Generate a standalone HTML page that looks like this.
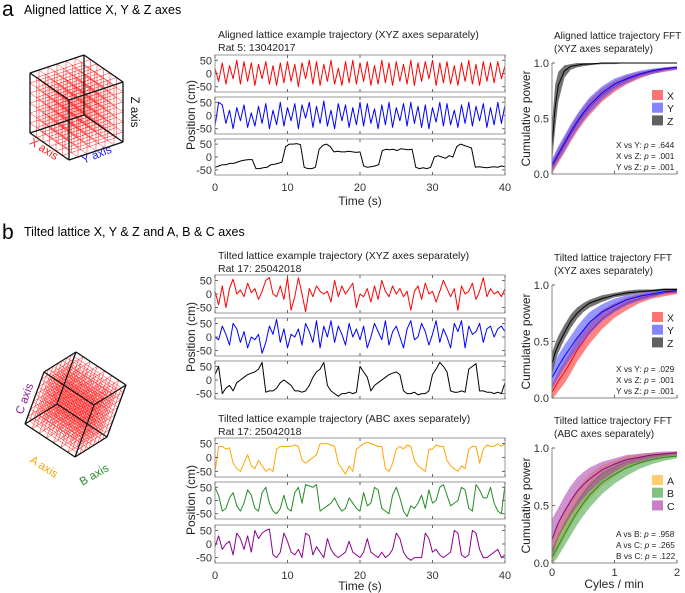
<!DOCTYPE html>
<html><head><meta charset="utf-8"><style>
body{margin:0;background:#fff}
svg{display:block;font-family:"Liberation Sans",Arial,sans-serif}
</style></head><body>
<svg id="fig" width="685" height="593" viewBox="0 0 685 593" xmlns="http://www.w3.org/2000/svg">
<text x="2" y="16" font-size="21">a</text>
<text x="24" y="14" font-size="12.5">Aligned lattice X, Y &amp; Z axes</text>
<text x="2" y="239" font-size="21">b</text>
<text x="24" y="236" font-size="12.5">Tilted lattice X, Y &amp; Z and A, B &amp; C axes</text>
<g id="cubes"></g>
<g id="traj"></g>
<g id="fft"></g>
</svg>
<script>
// ---------- trajectory data (cm, sampled every 0.5 s, 0..40 s) ----------
const timeTicks=[0,10,20,30,40];
const posTicks=[50,0,-50];
const alignedX=[20,-30,40,-40,30,-20,50,-40,45,-30,40,-45,35,-20,45,-40,30,-45,40,-35,45,-30,35,-50,40,-20,50,-40,45,-45,35,-30,50,-40,20,-45,45,-35,50,-40,40,-30,45,-45,30,-40,50,-35,40,-45,45,-30,35,-40,50,-45,40,-30,45,-20,50,-45,40,-35,45,-40,30,-45,40,-30,50,-40,35,-45,45,-30,40,-35,45,-20,30];
const alignedY=[-40,50,40,-30,20,-50,30,-20,40,-45,10,-40,35,-30,45,-50,20,-35,50,-40,30,-20,45,-50,40,-10,50,-45,35,-30,55,-40,20,-50,45,-20,40,-45,30,-35,50,-40,45,-30,25,-50,40,-35,50,-45,30,-20,45,-40,50,-30,35,-45,40,-50,30,-25,50,-40,45,-35,20,-45,40,-30,50,-40,35,-20,45,-45,30,-35,50,-30,40];
const alignedZ=[-40,-35,-30,-30,-25,-25,-20,-15,-12,-10,-10,-45,-45,-42,-40,-30,-28,-25,-20,40,50,50,52,48,-40,-45,-45,-40,30,45,50,40,20,22,20,20,22,20,18,20,-35,-40,-38,-35,-30,25,30,28,30,25,32,30,28,30,-40,-45,-42,-45,-40,0,5,0,-5,5,0,40,50,45,40,35,-40,-38,-40,-42,-40,-38,-40,-35,-38];
const tiltedX=[10,-40,30,-50,20,55,0,15,-10,40,5,20,-20,10,50,60,0,-10,30,-20,60,-60,-10,60,0,-65,20,-10,30,10,0,10,-30,50,-10,30,0,20,40,-50,0,-10,20,-30,30,-20,50,10,-10,30,0,20,-10,10,-60,10,30,-20,40,0,10,-30,10,50,20,-10,20,-60,30,0,10,40,-20,10,60,-10,20,0,10,-10,20];
const tiltedY=[0,-10,40,10,-30,50,30,-20,20,-40,0,-10,10,-60,-20,40,10,65,-20,30,-40,10,0,30,-30,50,20,-20,60,-40,40,0,60,-20,40,10,-30,50,0,30,-10,40,-40,0,50,20,-10,60,-30,20,40,0,-40,30,60,-10,0,50,20,-30,10,60,-20,30,0,-40,50,20,60,-40,40,10,20,50,-20,30,40,0,30,40,20];
const tiltedZ=[20,50,-50,-30,-20,-40,-10,0,10,20,25,30,40,65,-45,-40,-40,-30,-10,0,-10,-20,-40,-40,-45,-40,-20,10,30,40,65,-20,-40,-50,-60,-50,-50,-45,-50,-45,50,30,10,-40,-20,-10,0,10,20,25,30,20,-40,-50,-50,-45,-55,-50,-50,-40,20,40,65,50,30,-40,-45,-45,-40,-45,40,50,60,-40,-40,-45,-45,-50,-45,-50,-10];
const tiltedA=[-50,40,40,30,35,-20,-40,-50,-20,10,-30,-40,-10,-30,-50,-40,-50,30,40,40,40,40,45,40,-10,-20,-10,0,10,50,50,50,45,40,-20,-40,-60,-30,-50,30,40,50,55,50,45,40,40,-40,-50,-20,30,40,30,45,40,-10,-30,-40,-50,30,30,45,40,40,-10,-30,-40,-50,-30,-40,30,40,40,-20,30,45,40,40,50,40,50];
const tiltedB=[50,20,-40,-30,10,30,-20,-40,-10,40,20,-30,-40,30,50,-10,-40,-50,-30,20,-30,-40,30,50,-10,60,55,50,60,-40,-30,-20,-10,10,-20,-40,-30,10,-10,-30,-40,30,-20,-10,50,40,-30,-40,-50,20,50,10,-40,-60,-20,-30,-10,20,-30,40,-10,0,50,60,20,-20,-10,0,50,40,-30,-40,60,40,10,10,50,-10,-40,-50,60];
const tiltedC=[-10,30,-20,0,10,-40,40,20,-20,30,-30,50,20,40,50,55,-40,-50,-30,40,10,-30,-40,-20,-50,40,30,-40,-10,-30,-50,20,-20,-40,-50,-40,-30,10,-30,-40,-50,-30,20,-30,-40,-50,-30,-50,-40,-20,40,20,-30,-50,-60,-50,-50,-50,40,20,-30,-20,-40,-50,-40,-30,50,40,-40,-50,-40,50,40,-20,-50,-50,-40,-30,-20,-50,-40];

// ---------- FFT data (cumulative power vs cycles/min) ----------
const freqs=[0,0.05,0.1,0.2,0.3,0.4,0.5,0.6,0.8,1.0,1.2,1.4,1.6,1.8,2.0];
const powerTicks=[0,0.5,1];
const freqTicks=[0,1,2];
const aZmean=[0.25,0.6,0.8,0.93,0.97,0.98,0.99,0.99,1,1,1,1,1,1,1];
const aZlo=[0.1,0.4,0.65,0.87,0.94,0.96,0.97,0.98,0.99,0.99,1,1,1,1,1];
const aZhi=[0.45,0.8,0.92,0.98,0.99,1,1,1,1,1,1,1,1,1,1];
const aXmean=[0.06,0.11,0.16,0.26,0.36,0.45,0.53,0.6,0.71,0.79,0.85,0.89,0.92,0.94,0.96];
const aXlo=[0,0.05,0.1,0.19,0.29,0.38,0.46,0.53,0.65,0.74,0.81,0.86,0.9,0.92,0.94];
const aXhi=[0.12,0.17,0.23,0.33,0.43,0.52,0.6,0.67,0.77,0.84,0.89,0.92,0.94,0.96,0.97];
const aYmean=[0.08,0.13,0.18,0.28,0.38,0.47,0.55,0.62,0.73,0.81,0.86,0.9,0.93,0.95,0.96];
const aYlo=[0.02,0.07,0.12,0.21,0.31,0.4,0.48,0.55,0.67,0.76,0.82,0.87,0.9,0.93,0.94];
const aYhi=[0.14,0.19,0.25,0.35,0.45,0.54,0.62,0.69,0.79,0.86,0.9,0.93,0.95,0.96,0.97];
const tZmean=[0.3,0.4,0.47,0.58,0.68,0.75,0.8,0.84,0.88,0.91,0.93,0.94,0.95,0.96,0.96];
const tZlo=[0.2,0.32,0.4,0.52,0.62,0.7,0.76,0.8,0.85,0.89,0.91,0.93,0.94,0.95,0.95];
const tZhi=[0.4,0.48,0.55,0.65,0.74,0.8,0.84,0.87,0.91,0.93,0.95,0.96,0.96,0.97,0.97];
const tYmean=[0.18,0.23,0.28,0.37,0.45,0.53,0.6,0.67,0.76,0.82,0.87,0.9,0.92,0.94,0.95];
const tYlo=[0.08,0.13,0.18,0.27,0.35,0.43,0.5,0.57,0.68,0.76,0.82,0.86,0.89,0.92,0.93];
const tYhi=[0.28,0.33,0.38,0.47,0.55,0.63,0.7,0.76,0.83,0.88,0.91,0.93,0.95,0.96,0.96];
const tXmean=[0.05,0.1,0.15,0.23,0.32,0.42,0.5,0.58,0.7,0.78,0.84,0.88,0.91,0.93,0.94];
const tXlo=[0,0.02,0.06,0.13,0.22,0.32,0.4,0.48,0.61,0.71,0.78,0.84,0.88,0.9,0.92];
const tXhi=[0.12,0.18,0.24,0.33,0.42,0.52,0.6,0.67,0.78,0.84,0.89,0.92,0.94,0.95,0.96];
const cMean=[0.2,0.28,0.35,0.45,0.54,0.62,0.68,0.73,0.81,0.86,0.9,0.92,0.94,0.95,0.96];
const cLo=[0.05,0.14,0.22,0.32,0.41,0.49,0.56,0.62,0.72,0.79,0.85,0.88,0.91,0.93,0.94];
const cHi=[0.38,0.43,0.48,0.58,0.67,0.74,0.79,0.83,0.88,0.91,0.94,0.95,0.96,0.97,0.97];
const aMean=[0.1,0.16,0.23,0.34,0.44,0.53,0.6,0.67,0.77,0.83,0.88,0.91,0.93,0.94,0.95];
const aLo=[0,0.05,0.11,0.22,0.32,0.41,0.49,0.56,0.67,0.75,0.82,0.86,0.89,0.91,0.93];
const aHi=[0.22,0.28,0.35,0.46,0.56,0.64,0.71,0.77,0.85,0.89,0.93,0.95,0.96,0.96,0.97];
const bMean=[0.05,0.1,0.15,0.25,0.35,0.44,0.52,0.59,0.7,0.77,0.83,0.87,0.9,0.92,0.93];
const bLo=[0,0.02,0.06,0.15,0.24,0.33,0.41,0.48,0.6,0.69,0.76,0.82,0.86,0.89,0.91];
const bHi=[0.12,0.18,0.24,0.35,0.45,0.54,0.62,0.69,0.79,0.85,0.89,0.92,0.94,0.95,0.95];

const NS='http://www.w3.org/2000/svg';
function mk(tag,attrs,parent){const e=document.createElementNS(NS,tag);for(const k in attrs)e.setAttribute(k,attrs[k]);parent.appendChild(e);return e;}

// ---------- cubes ----------
const cubes=document.getElementById('cubes');
function cube(V,a,b,c,n,name){
  const g=mk('g',{},cubes);
  
  
  const P=(u,v,w)=>[V[0]+u*a[0]+v*b[0]+w*c[0],V[1]+u*a[1]+v*b[1]+w*c[1]];
  let d='';
  for(let i=0;i<=n;i++)for(let j=0;j<=n;j++){
    const s=i/n,t=j/n;
    let p=P(0,s,t),q=P(1,s,t);d+=`M${p[0]} ${p[1]}L${q[0]} ${q[1]}`;
    p=P(s,0,t);q=P(s,1,t);d+=`M${p[0]} ${p[1]}L${q[0]} ${q[1]}`;
    p=P(s,t,0);q=P(s,t,1);d+=`M${p[0]} ${p[1]}L${q[0]} ${q[1]}`;
  }
  mk('path',{d:d,stroke:'#ff2020','stroke-width':0.5,fill:'none'},g);
  const E=[[[0,0,0],[1,0,0]],[[0,0,0],[0,1,0]],[[0,0,0],[0,0,1]],[[1,0,0],[1,1,0]],[[0,1,0],[1,1,0]],[[1,0,0],[1,0,1]],[[0,1,0],[0,1,1]],[[0,0,1],[1,0,1]],[[0,0,1],[0,1,1]],[[1,1,0],[1,1,1]],[[1,0,1],[1,1,1]],[[0,1,1],[1,1,1]]];
  let d2='';
  E.forEach(e=>{const p=P(...e[0]),q=P(...e[1]);d2+=`M${p[0]} ${p[1]}L${q[0]} ${q[1]}`;});
  mk('path',{d:d2,stroke:'#111','stroke-width':1.3,fill:'none'},g);
}
cube([69,100],[-39,-27],[54,-18],[0,60],6,'aligned-lattice-cube');
cube([57,404],[19,-52],[-32,20],[50,33],7,'tilted-lattice-cube');
function lab(txt,x,y,rot,col,name){const t=mk('text',{x:x,y:y,'font-size':11.5,fill:col,'text-anchor':'middle',transform:`rotate(${rot} ${x} ${y})`},cubes);t.textContent=txt;
  
  }
lab('X axis',42,152,32,'#ff2020','x-axis-label');
lab('Y axis',98,158,-22,'#2020ff','y-axis-label');
lab('Z axis',131,112,90,'#111','z-axis-label');
lab('A axis',42,470,32,'#ffa500','a-axis-label');
lab('B axis',96,478,-30,'#2a8a2a','b-axis-label');
lab('C axis',28,400,-70,'#8b1a8b','c-axis-label');

// ---------- trajectories ----------
const traj=document.getElementById('traj');
const X0=215,X1=505;
function tx(t){return X0+(t/40)*(X1-X0);}
function trajPanel(top,bot,vals,col,name,showX){
  const g=mk('g',{},traj);
  
  
  const ty=v=>bot-(v+70)/140*(bot-top);
  const n=vals.length;
  let d='';vals.forEach((v,i)=>{d+=(i?'L':'M')+tx(i*40/(n-1)).toFixed(1)+' '+ty(v).toFixed(1);});
  mk('path',{d:d,stroke:col,'stroke-width':1,fill:'none','stroke-linejoin':'round'},g);
  mk('rect',{x:X0,y:top,width:X1-X0,height:bot-top,fill:'none',stroke:'#999','stroke-width':1},g);
  posTicks.forEach(v=>{const y=ty(v);
    mk('line',{x1:X0,x2:X0+3,y1:y,y2:y,stroke:'#666'},g);
    mk('line',{x1:X1,x2:X1-3,y1:y,y2:y,stroke:'#666'},g);
    const t=mk('text',{x:X0-3,y:y+4,'font-size':11,'text-anchor':'end',fill:'#333'},g);t.textContent=v;});
  timeTicks.forEach(tv=>{const x=tx(tv);
    mk('line',{x1:x,x2:x,y1:bot,y2:bot-3,stroke:'#666'},g);
    mk('line',{x1:x,x2:x,y1:top,y2:top+3,stroke:'#666'},g);
    if(showX){const t=mk('text',{x:x,y:bot+16,'font-size':11,'text-anchor':'middle',fill:'#333'},g);t.textContent=tv;}});
}
function ttext(txt,x,y,size,anchor,name,rot){const t=mk('text',{x:x,y:y,'font-size':size,'text-anchor':anchor||'start',fill:'#222'},traj);
  if(rot)t.setAttribute('transform',`rotate(${rot} ${x} ${y})`);t.textContent=txt;
  
  }
ttext('Aligned lattice example trajectory (XYZ axes separately)',218,38,10.5,'start','aligned-traj-title');
ttext('Rat 5: 13042017',218,51,10.5,'start','aligned-traj-subtitle');
trajPanel(55,92,alignedX,'#ff0000','aligned-x-trace',false);
trajPanel(97,134,alignedY,'#0000ff','aligned-y-trace',false);
trajPanel(139,175,alignedZ,'#000','aligned-z-trace',true);
ttext('Position (cm)',195,115,12,'middle','aligned-y-axis-title',-90);
ttext('Time (s)',360,205,12,'middle','aligned-x-axis-title');

ttext('Tilted lattice example trajectory (XYZ axes separately)',218,259,10.5,'start','tilted-xyz-title');
ttext('Rat 17: 25042018',218,272,10.5,'start','tilted-xyz-subtitle');
trajPanel(275,313,tiltedX,'#ff0000','tilted-x-trace',false);
trajPanel(318,356,tiltedY,'#0000ff','tilted-y-trace',false);
trajPanel(361,399,tiltedZ,'#000','tilted-z-trace',false);
ttext('Position (cm)',195,337,12,'middle','tilted-xyz-y-axis-title',-90);

ttext('Tilted lattice example trajectory (ABC axes separately)',218,422,10.5,'start','tilted-abc-title');
ttext('Rat 17: 25042018',218,435,10.5,'start','tilted-abc-subtitle');
trajPanel(438,477,tiltedA,'#ffa500','tilted-a-trace',false);
trajPanel(482,519,tiltedB,'#228b22','tilted-b-trace',false);
trajPanel(525,563,tiltedC,'#8b008b','tilted-c-trace',true);
ttext('Position (cm)',195,500,12,'middle','tilted-abc-y-axis-title',-90);
ttext('Time (s)',360,590,12,'middle','tilted-x-axis-title');

// ---------- FFT plots ----------
const fft=document.getElementById('fft');
const F0=552,F1=677;
function fx(f){return F0+(f/2)*(F1-F0);}
function fftPanel(top,bot,series,name,title1,title2,stats,showX){
  const g=mk('g',{},fft);
  
  
  const fy=v=>bot-v*(bot-top);
  let t=mk('text',{x:554,y:top-24,'font-size':10,fill:'#222'},g);t.textContent=title1;
  t=mk('text',{x:554,y:top-11,'font-size':10,fill:'#222'},g);t.textContent=title2;
  series.forEach(s=>{
    let d='';freqs.forEach((f,i)=>{d+=(i?'L':'M')+fx(f).toFixed(1)+' '+fy(s.hi[i]).toFixed(1);});
    for(let i=freqs.length-1;i>=0;i--)d+='L'+fx(freqs[i]).toFixed(1)+' '+fy(s.lo[i]).toFixed(1);
    const band=mk('path',{d:d+'Z',fill:s.band,'fill-opacity':s.op},g);
    
    
    let m='';freqs.forEach((f,i)=>{m+=(i?'L':'M')+fx(f).toFixed(1)+' '+fy(s.mean[i]).toFixed(1);});
    const ln=mk('path',{d:m,stroke:s.line,'stroke-width':1,fill:'none'},g);
    
    
  });
  mk('path',{d:`M${F0} ${top}L${F0} ${bot}L${F1} ${bot}`,stroke:'#888',fill:'none','stroke-width':1},g);
  powerTicks.forEach(v=>{const y=fy(v);mk('line',{x1:F0,x2:F0+3,y1:y,y2:y,stroke:'#666'},g);
    const tt=mk('text',{x:F0-3,y:y+4,'font-size':11,'text-anchor':'end',fill:'#333'},g);tt.textContent=v.toFixed(1);});
  freqTicks.forEach(f=>{const x=fx(f);mk('line',{x1:x,x2:x,y1:bot,y2:bot-3,stroke:'#666'},g);
    if(showX){const tt=mk('text',{x:x,y:bot+13,'font-size':11,'text-anchor':'middle',fill:'#333'},g);tt.textContent=f;}});
  t=mk('text',{x:530,y:(top+bot)/2,'font-size':12,'text-anchor':'middle',fill:'#222',transform:`rotate(-90 530 ${(top+bot)/2})`},g);t.textContent='Cumulative power';
  series.forEach((s,i)=>{const y=top+33+i*12.7;
    const sw=mk('rect',{x:652,y:y-6,width:11,height:10,fill:s.band,'fill-opacity':Math.min(1,s.op+0.1)},g);
    
    
    const lt=mk('text',{x:667,y:y+3.5,'font-size':10.5,fill:'#222'},g);lt.textContent=s.label;});
  stats.forEach((st,i)=>{const tt=mk('text',{x:616,y:bot-26+i*11,'font-size':8.3,fill:'#222'},g);
    tt.innerHTML=st[0]+': <tspan font-style="italic">p</tspan> = '+st[1];});
  if(showX){t=mk('text',{x:614,y:bot+25,'font-size':12,'text-anchor':'middle',fill:'#222'},g);t.textContent='Cyles / min';}
}
fftPanel(63,174,[
  {key:'x',label:'X',band:'#ff5a5a',op:0.75,line:'#ff0000',mean:aXmean,lo:aXlo,hi:aXhi},
  {key:'y',label:'Y',band:'#5050ff',op:0.6,line:'#0000ff',mean:aYmean,lo:aYlo,hi:aYhi},
  {key:'z',label:'Z',band:'#444',op:0.75,line:'#000',mean:aZmean,lo:aZlo,hi:aZhi}],
  'aligned-fft','Aligned lattice trajectory FFT','(XYZ axes separately)',
  [['X vs Y','.644'],['X vs Z','.001'],['Y vs Z','.001']],false);
fftPanel(285,398,[
  {key:'x',label:'X',band:'#ff5a5a',op:0.75,line:'#ff0000',mean:tXmean,lo:tXlo,hi:tXhi},
  {key:'y',label:'Y',band:'#5050ff',op:0.6,line:'#0000ff',mean:tYmean,lo:tYlo,hi:tYhi},
  {key:'z',label:'Z',band:'#444',op:0.75,line:'#000',mean:tZmean,lo:tZlo,hi:tZhi}],
  'tilted-xyz-fft','Tilted lattice trajectory FFT','(XYZ axes separately)',
  [['X vs Y','.029'],['X vs Z','.001'],['Y vs Z','.001']],false);
fftPanel(448,563,[
  {key:'b',label:'A',band:'#ffb733',op:0.6,line:'#d08000',mean:aMean,lo:aLo,hi:aHi},
  {key:'a',label:'B',band:'#4ea64e',op:0.6,line:'#228b22',mean:bMean,lo:bLo,hi:bHi},
  {key:'c',label:'C',band:'#aa3aaa',op:0.55,line:'#8b008b',mean:cMean,lo:cLo,hi:cHi}],
  'tilted-abc-fft','Tilted lattice trajectory FFT','(ABC axes separately)',
  [['A vs B','.958'],['A vs C','.265'],['B vs C','.122']],true);
</script>
</body></html>
